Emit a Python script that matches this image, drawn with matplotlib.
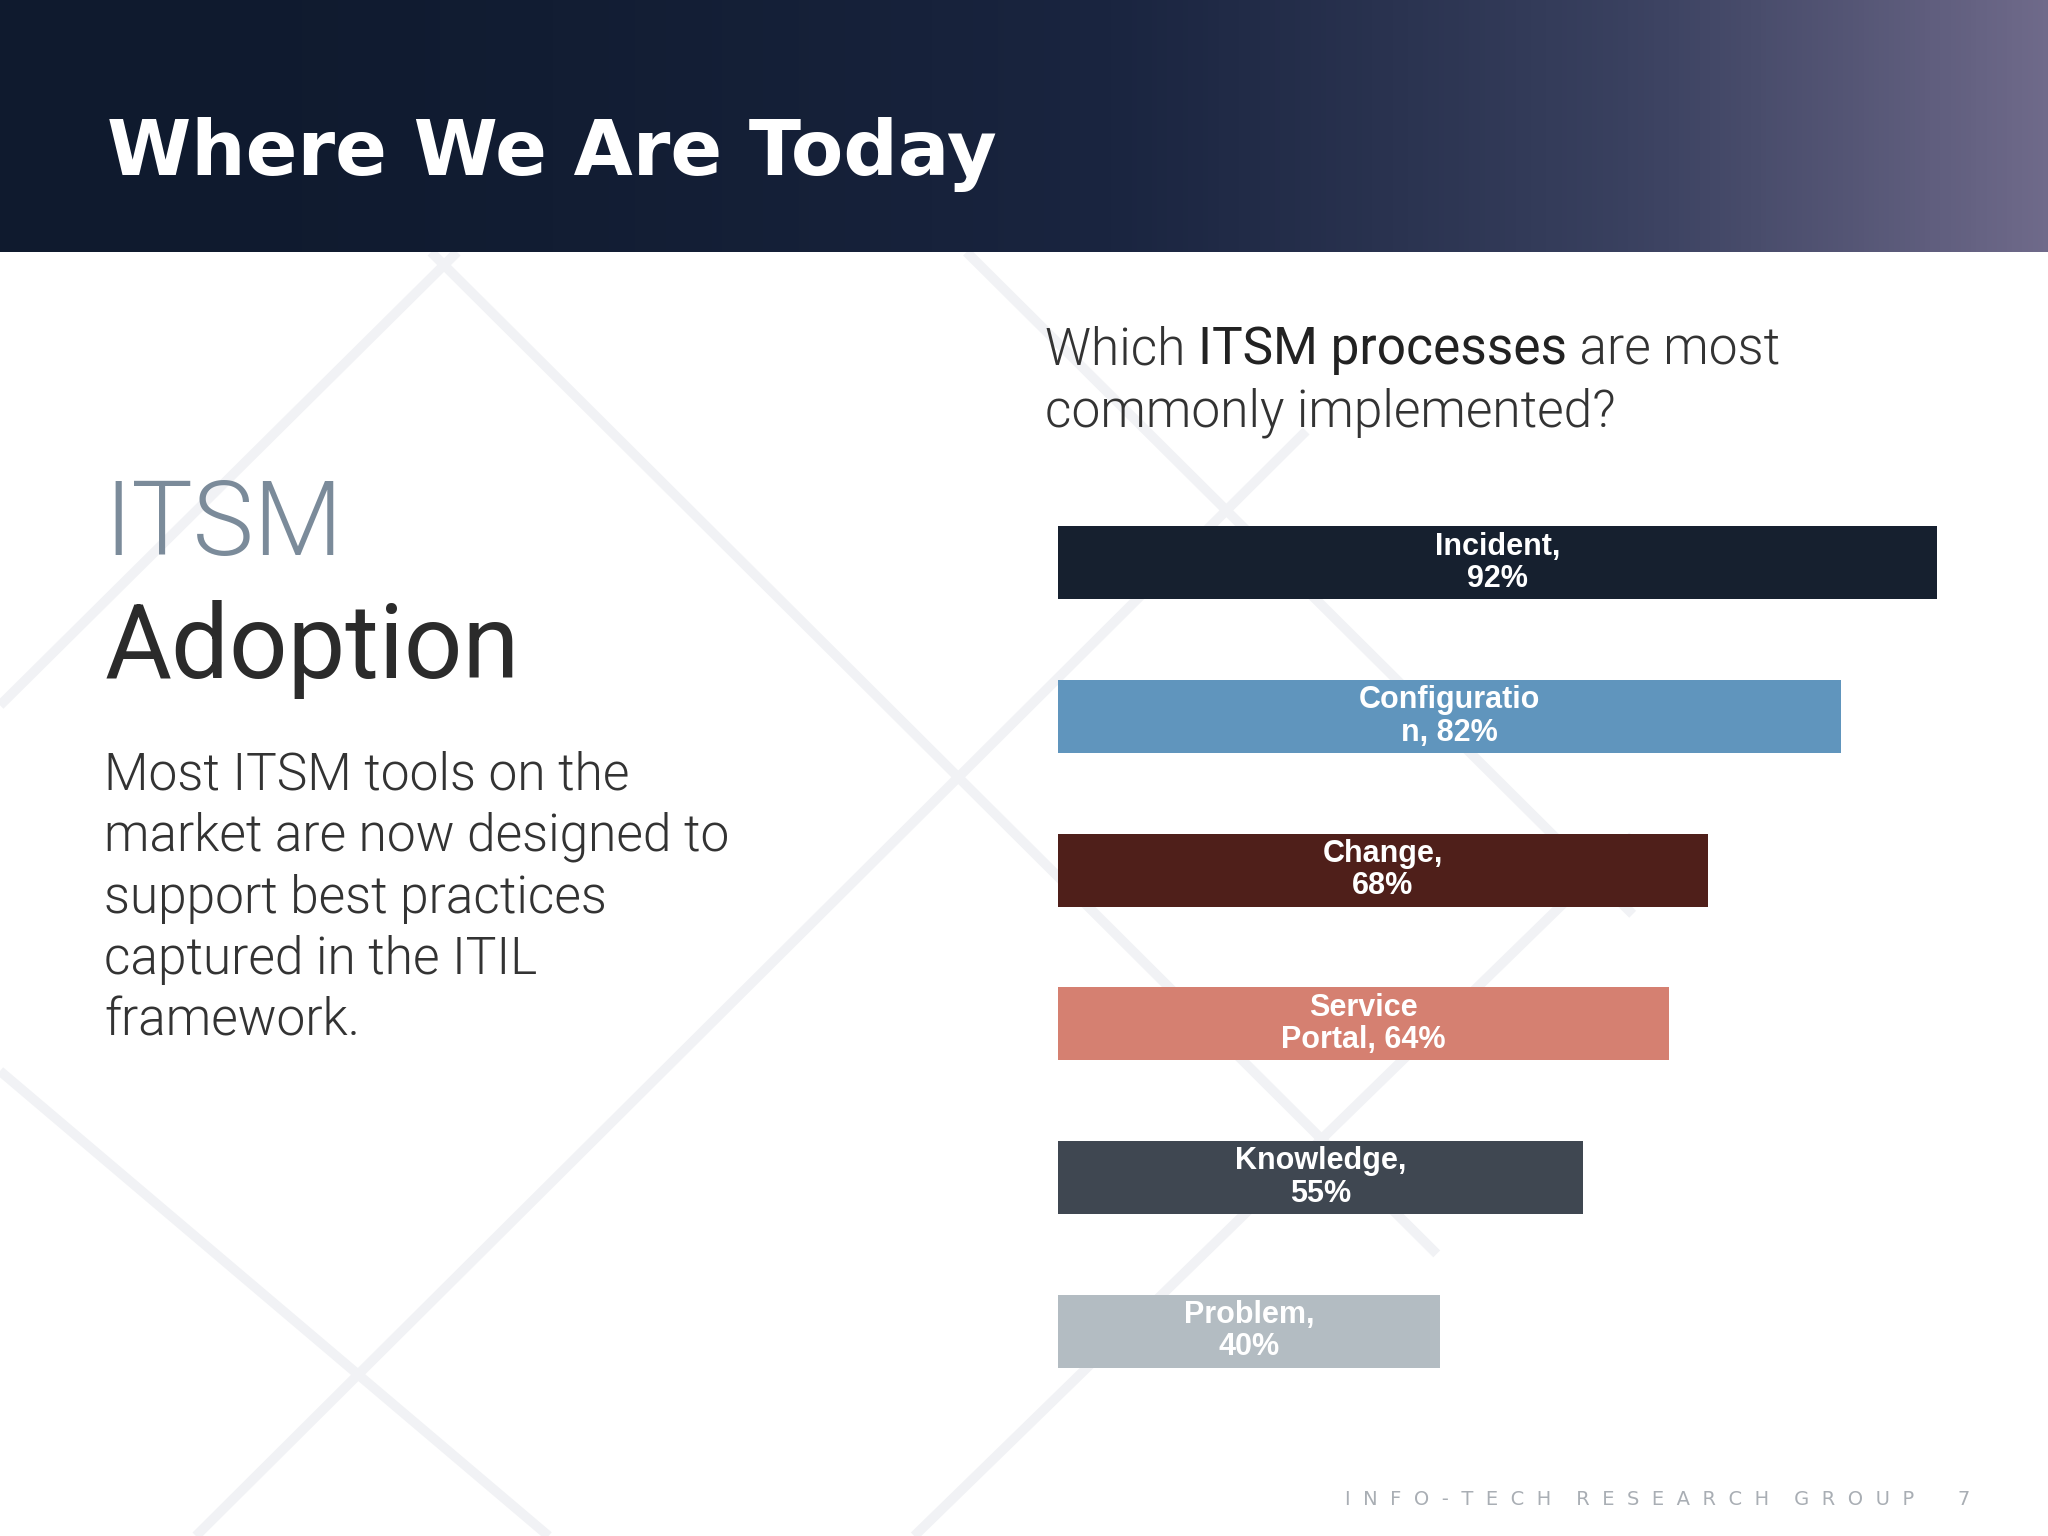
import numpy as np
import matplotlib
matplotlib.use("Agg")
import matplotlib.pyplot as plt
from matplotlib.colors import LinearSegmentedColormap

categories = ["Incident,\n92%", "Configuratio\nn, 82%", "Change,\n68%", "Service\nPortal, 64%", "Knowledge,\n55%", "Problem,\n40%"]
values = [92, 82, 68, 64, 55, 40]
colors = ["#16202f", "#6095bd", "#4f1f1a", "#d58071", "#3f4751", "#b3bcc2"]

W, H = 1568, 1176
fig = plt.figure(figsize=(20.48, 15.36), dpi=100)
def fx(x): return x / W
def fy(y): return 1 - y / H

bg = fig.add_axes([0, 0, 1, 1]); bg.set_xlim(0, W); bg.set_ylim(H, 0); bg.axis("off")
for (x0, y0, x1, y1) in [(0, 540, 350, 193), (0, 820, 420, 1176), (330, 193, 1100, 960), (150, 1176, 1000, 330),
                         (740, 193, 1250, 700), (700, 1176, 1250, 640)]:
    bg.plot([x0, x1], [y0, y1], color="#f1f2f5", lw=7, solid_capstyle="butt", zorder=0)
grad = np.linspace(0, 1, 400)[None, :]
cmap = LinearSegmentedColormap.from_list("h", ["#0f1a2e", "#1a2540", "#3a4160", "#6f6a8a"])
bg.imshow(np.vstack([grad] * 4) ** 1.8, cmap=cmap, extent=[0, W, 193, 0], aspect="auto", zorder=1)
bg.text(82, 118, "Where We Are Today", color="white", fontsize=55, fontweight="bold",
        family="DejaVu Sans", va="center", ha="left", zorder=3)

tk = dict(family="Roboto", fontweight=300, color="#333333")
fig.canvas.draw()
r = fig.canvas.get_renderer()
t1 = bg.text(800, 268, "Which ", fontsize=37, va="center", **tk)
x = 800 + t1.get_window_extent(r).width * W / fig.bbox.width
t2 = bg.text(x, 268, "ITSM processes", fontsize=37, va="center", family="Roboto", fontweight="normal", color="#222222")
x += t2.get_window_extent(r).width * W / fig.bbox.width
bg.text(x, 268, " are most", fontsize=37, va="center", **tk)
bg.text(800, 316, "commonly implemented?", fontsize=37, va="center", **tk)

bg.text(80, 403, "ITSM", fontsize=74, va="center", family="Roboto", fontweight=300, color="#7b8b9a")
bg.text(80, 497, "Adoption", fontsize=74, va="center", family="Roboto", fontweight="normal", color="#2b2b2b")
body = ["Most ITSM tools on the", "market are now designed to", "support best practices",
        "captured in the ITIL", "framework."]
for i, line in enumerate(body):
    bg.text(80, 594 + i * 47, line, fontsize=37, va="center", **tk)
bg.text(1030, 1148, "I  N  F  O  -  T  E  C  H    R  E  S  E  A  R  C  H    G  R  O  U  P       7", fontsize=14,
        color="#a9aeb4", va="center", family="DejaVu Sans")

ax = fig.add_axes([fx(810), fy(1078), (1541.5 - 810) / W, (1078 - 372) / H])
ax.patch.set_alpha(0)
y = np.arange(len(values))
ax.barh(y, values, color=colors, height=0.475)
for yi, v, lab in zip(y, values, categories):
    ax.text(v / 2, yi, lab, ha="center", va="center", color="white", fontsize=22,
            fontweight="bold", family="Liberation Sans", linespacing=1.1)
ax.set_xlim(0, 100); ax.set_ylim(5.5, -0.5); ax.axis("off")
fig.savefig("out.png", dpi=100)
